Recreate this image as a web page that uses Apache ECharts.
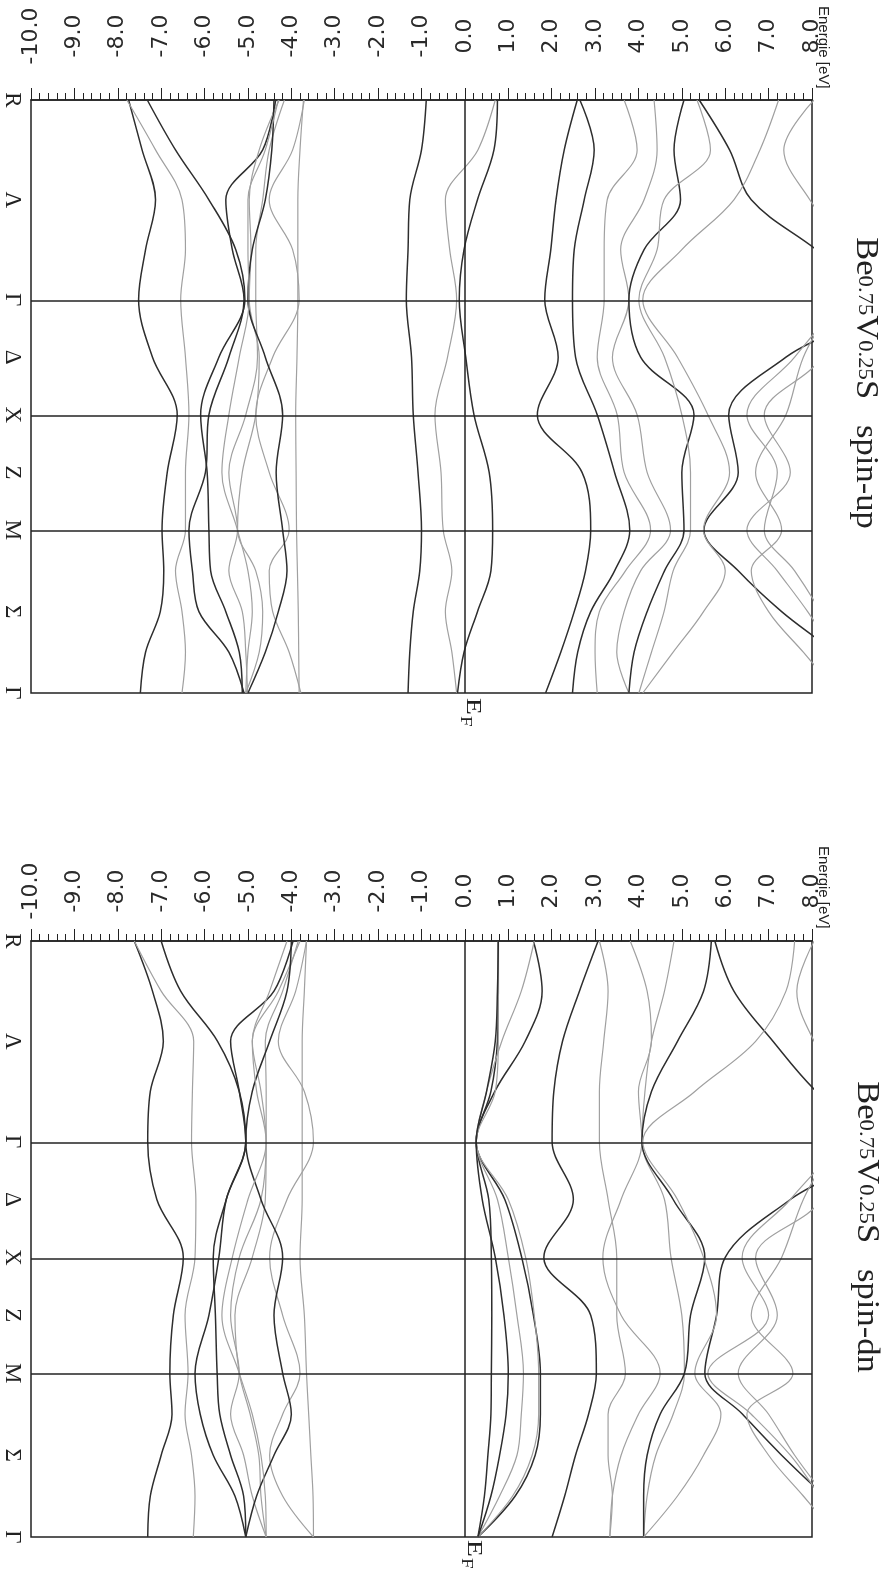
<!DOCTYPE html>
<html><head><meta charset="utf-8">
<script src="https://cdn.jsdelivr.net/npm/echarts@6/dist/echarts.min.js"></script>
<style>html,body{margin:0;padding:0;background:#fff}#c{width:892px;height:1596px}</style>
</head><body><div id="c"></div>
<script>
// ---- k-path (high-symmetry points) ----
const kLabels = ['R','Λ','Γ','Δ','X','Z','M','Σ','Γ'];
const kTicks  = [0, 0.433, 0.866, 1.116, 1.366, 1.616, 1.866, 2.220, 2.573];
const kLines  = [0.866, 1.366, 1.866];
// sample positions along the path where band energies were read
const kSamples = [0, 0.2165, 0.433, 0.6495, 0.866, 1.116, 1.366, 1.616, 1.866, 2.043, 2.220, 2.396, 2.573];
// energy axis
const energyMin = -10, energyMax = 8, energyStep = 1;
const titleUp = ['Be','0.75','V','0.25','S','spin-up'];
const titleDn = ['Be','0.75','V','0.25','S','spin-dn'];

// ---- spin-up bands (eV at kSamples) ----
const up_v1 = [-7.75,-7.44,-7.13,-7.36,-7.52,-7.20,-6.63,-6.86,-6.98,-6.94,-7.02,-7.36,-7.48];
const up_v2 = [-7.79,-7.13,-6.52,-6.44,-6.55,-6.44,-6.36,-6.44,-6.44,-6.67,-6.52,-6.44,-6.52];
const up_v3 = [-7.32,-6.67,-5.90,-5.28,-5.07,-5.67,-6.09,-5.94,-5.90,-5.86,-5.51,-5.20,-5.13];
const up_v4 = [-4.36,-4.66,-5.51,-5.36,-5.09,-5.44,-5.90,-5.98,-6.36,-6.28,-6.13,-5.44,-5.09];
const up_v5 = [-4.28,-4.74,-4.97,-4.93,-4.97,-4.74,-4.82,-5.13,-5.24,-4.82,-4.66,-4.74,-5.05];
const up_v6 = [-4.16,-4.51,-4.66,-4.82,-4.82,-4.78,-5.05,-5.44,-5.24,-5.44,-5.13,-5.05,-5.01];
const up_v7 = [-3.70,-3.97,-4.51,-3.97,-3.82,-4.43,-4.82,-4.51,-4.05,-4.51,-4.43,-4.05,-3.78];
const up_v8 = [-3.72,-3.80,-3.85,-3.85,-3.85,-3.87,-3.90,-3.89,-3.88,-3.86,-3.84,-3.83,-3.82];
const up_v9 = [-4.40,-4.45,-4.60,-4.90,-5.00,-4.60,-4.20,-4.35,-4.20,-4.10,-4.30,-4.60,-5.00];
const up_v10= [-4.30,-4.60,-5.00,-5.00,-4.97,-5.20,-5.44,-5.60,-5.24,-5.00,-4.90,-5.00,-5.05];
const up_b1 = [-0.89,-1.00,-1.27,-1.31,-1.35,-1.23,-1.19,-1.08,-1.00,-1.04,-1.19,-1.27,-1.31];
const up_b2 = [0.70,0.30,-0.45,-0.35,-0.19,-0.40,-0.69,-0.55,-0.50,-0.30,-0.45,-0.30,-0.19];
const up_b3 = [0.75,0.67,0.29,-0.02,-0.13,0.02,0.21,0.56,0.64,0.60,0.29,-0.02,-0.17];
const up_c1 = [2.59,2.29,2.10,1.98,1.84,2.15,1.67,2.70,2.90,2.78,2.52,2.21,1.86];
const up_c2 = [2.65,2.98,2.75,2.52,2.48,2.55,3.05,3.45,3.80,3.45,2.90,2.60,2.48];
const up_c3 = [3.67,3.97,3.28,3.21,3.21,3.05,3.51,3.67,4.28,3.70,3.10,3.00,3.05];
const up_c4 = [4.36,4.43,4.13,3.59,3.78,3.40,3.97,4.20,4.74,4.05,3.67,3.50,3.78];
const up_c5 = [5.05,4.82,4.97,4.13,3.78,4.05,5.28,5.00,5.05,4.60,4.20,3.90,3.78];
const up_c6 = [5.35,5.66,4.59,4.43,4.01,4.60,5.00,5.20,5.20,4.80,4.59,4.30,4.01];
const up_c7 = [5.40,6.10,6.60,8.10,9.50,7.40,6.08,6.30,5.51,6.30,7.30,8.50,9.50];
const up_c8 = [7.23,6.80,6.20,5.00,4.10,4.90,5.60,6.10,5.50,6.00,5.50,4.80,4.10];
const up_c9 = [8.05,7.35,7.95,8.80,9.60,9.60,9.60,9.60,9.60,9.60,9.60,9.60,9.60];
const up_c10= [9.60,9.60,9.00,8.60,8.40,8.20,6.90,7.50,6.50,7.20,7.90,8.50,9.00];
const up_c11= [9.60,9.60,9.20,8.80,8.50,7.80,7.40,6.70,7.30,6.60,7.00,7.80,8.60];
const up_c12= [9.60,9.60,9.40,9.00,8.60,7.60,6.50,7.20,6.90,7.60,8.20,8.70,9.20];

// ---- spin-down bands ----
const dn_v1 = [-7.62,-7.20,-6.95,-7.25,-7.31,-7.10,-6.49,-6.72,-6.80,-6.75,-7.00,-7.25,-7.31];
const dn_v2 = [-7.62,-7.00,-6.25,-6.28,-6.30,-6.20,-6.22,-6.45,-6.38,-6.45,-6.30,-6.22,-6.26];
const dn_v3 = [-7.00,-6.55,-5.70,-5.20,-5.05,-5.50,-5.80,-5.75,-5.71,-5.65,-5.40,-5.10,-5.05];
const dn_v4 = [-3.96,-4.40,-5.40,-5.20,-5.05,-5.50,-5.67,-5.90,-6.22,-6.10,-5.80,-5.30,-5.05];
const dn_v5 = [-3.84,-4.20,-4.60,-4.58,-4.58,-4.60,-4.90,-5.30,-5.20,-4.95,-4.75,-4.70,-4.58];
const dn_v6 = [-3.80,-4.30,-4.90,-4.70,-4.58,-4.70,-5.20,-5.40,-5.20,-5.40,-5.10,-4.90,-4.58];
const dn_v7 = [-3.65,-3.90,-4.30,-3.70,-3.49,-4.10,-4.50,-4.20,-3.80,-4.20,-4.50,-4.20,-3.49];
const dn_v8 = [-3.65,-3.70,-3.75,-3.75,-3.75,-3.75,-3.80,-3.70,-3.65,-3.60,-3.55,-3.50,-3.49];
const dn_v9 = [-4.00,-4.10,-4.50,-4.90,-5.05,-4.70,-4.20,-4.40,-4.20,-4.00,-4.40,-4.80,-5.05];
const dn_v10= [-4.10,-4.50,-4.90,-4.80,-4.58,-5.00,-5.36,-5.60,-5.20,-4.90,-4.70,-4.60,-4.58];
const dn_b1 = [1.58,1.78,1.39,0.69,0.26,0.92,1.31,1.58,1.74,1.74,1.62,1.16,0.30];
const dn_b2 = [0.77,0.77,0.75,0.60,0.26,0.55,0.61,0.62,0.61,0.60,0.53,0.45,0.30];
const dn_b3 = [1.60,1.30,0.85,0.50,0.26,1.00,1.40,1.60,1.70,1.70,1.55,1.10,0.30];
const dn_b4 = [0.77,0.77,0.77,0.70,0.26,0.75,1.00,1.20,1.35,1.30,1.20,0.80,0.30];
const dn_b5 = [0.77,0.75,0.70,0.50,0.26,0.40,0.70,0.90,1.00,0.95,0.80,0.60,0.30];
const dn_c1 = [3.07,2.64,2.25,2.05,2.01,2.50,1.82,2.90,3.03,2.85,2.55,2.30,2.01];
const dn_c2 = [3.10,3.30,3.20,3.10,3.10,3.30,3.50,3.50,3.70,3.30,3.30,3.40,3.34];
const dn_c3 = [3.81,4.20,4.30,4.00,4.08,3.60,3.18,3.60,4.50,4.00,3.60,3.40,3.34];
const dn_c4 = [4.82,4.60,4.30,4.15,4.08,4.60,4.75,5.00,5.06,4.80,4.40,4.20,4.12];
const dn_c5 = [5.68,5.50,4.90,4.30,4.08,4.80,5.53,5.20,5.06,4.50,4.20,4.12,4.12];
const dn_c6 = [5.76,6.20,7.10,8.10,9.50,7.50,6.00,5.80,5.53,6.40,7.30,8.30,9.50];
const dn_c7 = [7.60,7.40,6.70,5.30,4.10,4.90,5.50,5.80,5.30,5.90,5.50,4.90,4.12];
const dn_c8 = [8.05,7.65,8.05,8.80,9.60,9.60,9.60,9.60,9.60,9.60,9.60,9.60,9.60];
const dn_c9 = [9.60,9.60,9.00,8.60,8.40,8.20,6.70,7.20,6.30,7.00,7.60,8.30,9.00];
const dn_c10= [9.60,9.60,9.20,8.80,8.50,7.80,7.30,6.60,7.56,6.50,7.00,7.80,8.60];
const dn_c11= [9.60,9.60,9.40,9.00,8.60,7.50,6.39,7.00,5.60,6.60,7.50,8.20,9.00];

// band -> tone (styling kept apart from the values)
const upBands = [[up_v1,'d'],[up_v2,'l'],[up_v3,'d'],[up_v4,'d'],[up_v5,'l'],[up_v6,'l'],[up_v7,'l'],[up_v8,'l'],[up_v9,'d'],[up_v10,'l'],
  [up_b1,'d'],[up_b2,'l'],[up_b3,'d'],[up_c1,'d'],[up_c2,'d'],[up_c3,'l'],[up_c4,'l'],[up_c5,'d'],[up_c6,'l'],[up_c7,'d'],[up_c8,'l'],[up_c9,'l'],[up_c10,'l'],[up_c11,'l'],[up_c12,'l']];
const dnBands = [[dn_v1,'d'],[dn_v2,'l'],[dn_v3,'d'],[dn_v4,'d'],[dn_v5,'l'],[dn_v6,'l'],[dn_v7,'l'],[dn_v8,'l'],[dn_v9,'d'],[dn_v10,'l'],
  [dn_b1,'d'],[dn_b2,'d'],[dn_b3,'l'],[dn_b4,'l'],[dn_b5,'d'],[dn_c1,'d'],[dn_c2,'l'],[dn_c3,'l'],[dn_c4,'l'],[dn_c5,'d'],[dn_c6,'d'],[dn_c7,'l'],[dn_c8,'l'],[dn_c9,'l'],[dn_c10,'l'],[dn_c11,'l']];

const DARK = '#2e2e2e', LIGHT = '#a0a0a0', INK = '#222';
const chart = echarts.init(document.getElementById('c'), null, {renderer:'canvas'});

const grids = [
  {left:31, top:100, width:781, height:593},
  {left:31, top:941, width:781, height:596}
];
const labelMargins = [64, 50];

function xAxisFor(gi){
  return {
    gridIndex:gi, type:'value', position:'top', min:energyMin, max:energyMax, interval:energyStep,
    axisLine:{show:true, onZero:false, lineStyle:{color:INK, width:1.5}},
    axisTick:{show:true, inside:false, length:12, lineStyle:{color:INK, width:1}},
    minorTick:{show:true, splitNumber:5, length:7, lineStyle:{color:INK, width:1}},
    splitLine:{show:false}, minorSplitLine:{show:false},
    axisLabel:{show:true, rotate:-90, margin:labelMargins[gi], align:'center', verticalAlign:'middle',
      showMinLabel:true, showMaxLabel:true,
      fontFamily:'DejaVu Sans', fontSize:22, color:'#2a2a2a', formatter:v=>Number(v).toFixed(1)}
  };
}
function yAxisFor(gi){
  return {
    gridIndex:gi, type:'value', min:0, max:kTicks[kTicks.length-1], inverse:true,
    axisLine:{show:false}, axisTick:{show:false}, splitLine:{show:false},
    axisLabel:{show:true, customValues:kTicks, rotate:-90, margin:19, align:'center', verticalAlign:'middle',
      fontFamily:'Liberation Serif', fontSize:23, color:INK,
      formatter:v=>{ let best=0; kTicks.forEach((t,i)=>{ if(Math.abs(t-v)<Math.abs(kTicks[best]-v)) best=i; }); return kLabels[best]; }}
  };
}
function bandSeries(vals, tone, gi){
  return {type:'line', xAxisIndex:gi, yAxisIndex:gi, data:kSamples.map((k,i)=>[vals[i],k]),
    smooth:0.35, symbol:'none', showSymbol:false, silent:true, animation:false, clip:true, z:2,
    lineStyle: tone==='d' ? {color:DARK, width:1.5} : {color:LIGHT, width:1.2}};
}
function refSeries(gi){
  return {type:'line', xAxisIndex:gi, yAxisIndex:gi, data:[[energyMin,0]], symbol:'none', showSymbol:false,
    lineStyle:{opacity:0}, silent:true, animation:false, z:3,
    markLine:{silent:true, symbol:['none','none'], animation:false, label:{show:false},
      lineStyle:{color:INK, width:1.5, type:'solid'},
      emphasis:{disabled:true},
      data: kLines.map(k=>({yAxis:k})).concat([{xAxis:0}])}};
}
const series = [];
upBands.forEach(b=>series.push(bandSeries(b[0], b[1], 0)));
dnBands.forEach(b=>series.push(bandSeries(b[0], b[1], 1)));
series.push(refSeries(0), refSeries(1));

function titleText(t){ return `{b|${t[0]}}{s|${t[1]}}{b|${t[2]}}{s|${t[3]}}{b|${t[4]}}{b|   ${t[5]}}`; }
const titleRich = {b:{fontFamily:'Liberation Serif', fontSize:32, fill:INK, color:INK},
                   s:{fontFamily:'Liberation Serif', fontSize:21, fill:INK, color:INK}};
function rotText(x, y, text, font, size, sx){
  return {type:'text', x:x, y:y, rotation:-Math.PI/2, scaleX:sx||1, silent:true,
    style:{text:text, fill:INK, font:`${size}px ${font}`, align:'left', verticalAlign:'middle',
      textAlign:'left', textVerticalAlign:'middle'}};
}
function titleEl(x, y, t){
  return {type:'text', x:x, y:y, rotation:-Math.PI/2, scaleX:1.08, silent:true,
      style:{text:titleText(t), rich:titleRich, align:'center', verticalAlign:'middle', textAlign:'center', textVerticalAlign:'middle'}};
}

chart.setOption({
  backgroundColor:'#fff', animation:false,
  grid: grids.map(g=>Object.assign({show:true, borderColor:INK, borderWidth:1.5, backgroundColor:'transparent',
     containLabel:false, outerBoundsMode:'none'}, g)),
  xAxis:[xAxisFor(0), xAxisFor(1)],
  yAxis:[yAxisFor(0), yAxisFor(1)],
  series: series,
  graphic:[
    titleEl(865, 383, titleUp),
    titleEl(866, 1227, titleDn),
    rotText(823, 6, 'Energie [eV]', 'Liberation Sans', 15),
    rotText(823, 846, 'Energie [eV]', 'Liberation Sans', 15),
    rotText(473, 698, 'E', 'Liberation Serif', 22, 1.25),
    rotText(465, 716, 'F', 'Liberation Serif', 16, 1.2),
    rotText(474, 1540, 'E', 'Liberation Serif', 22, 1.25),
    rotText(466, 1558, 'F', 'Liberation Serif', 16, 1.2)
  ]
});
</script></body></html>
